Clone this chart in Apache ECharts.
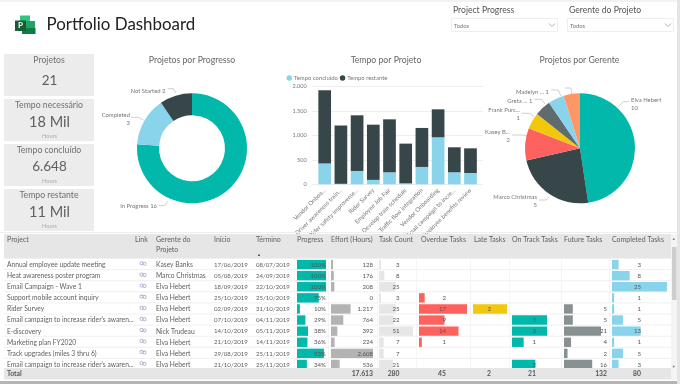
<!DOCTYPE html>
<html>
<head>
<meta charset="utf-8">
<style>
    html, body { margin: 0; padding: 0; background: #fff; }
    #main { width: 680px; height: 384px; }
</style>
<script src="https://cdn.jsdelivr.net/npm/echarts@6/dist/echarts.min.js"></script>
</head>
<body>
<div id="main"></div>
<script>
var FONT = 'Lato, "Noto Sans", sans-serif';

// rosca
var progressNames = ['In Progress', 'Completed', 'Not Started'];
var progressValues = [16, 3, 2];

// barras empilhadas
var barCategories = ['Vendor Onboa...', 'Driver awareness train...', 'Rider safety improveme...', 'Rider Survey', 'Employee Job Fair', 'Develop train schedule', 'Traffic flow integration', 'Vendor Onboarding', 'Email campaign to incre...', 'Employee benefits review'];
var timeDone = [422, 10, 272, 90, 245, 20, 354, 959, 245, 231];
var timeLeft = [1496, 1190, 1136, 1127, 1081, 810, 796, 571, 510, 503];
var barTicks = ['0', '500', '1.000', '1.500', '2.000'];

// pizza
var managerNames = ['Elva Hebert', 'Marco Christmas', 'Kasey B...', 'Frank Purc...', 'Greta ...', 'Madelyn ...', 'Outros'];
var managerValues = [10, 5, 2, 1, 1, 1, 1];

// cartoes
var kpiTitles = ['Projetos', 'Tempo necessário', 'Tempo concluído', 'Tempo restante'];
var kpiValues = ['21', '18 Mil', '6.648', '11 Mil'];

// tabela
var rowProjects = ['Annual employee update meeting', 'Heat awareness poster program', 'Email Campaign - Wave 1', 'Support mobile account inquiry', 'Rider Survey', "Email campaign to increase rider's awaren...", 'E-discovery', 'Marketing plan FY2020', 'Track upgrades (miles 3 thru 6)', "Email campaign to increase rider's awaren..."];
var rowManagers = ['Kasey Banks', 'Marco Christmas', 'Elva Hebert', 'Elva Hebert', 'Elva Hebert', 'Elva Hebert', 'Nick Trudeau', 'Elva Hebert', 'Elva Hebert', 'Elva Hebert'];
var rowStart = ['17/06/2019', '05/08/2019', '18/09/2019', '25/10/2019', '02/09/2019', '07/10/2019', '14/10/2019', '21/10/2019', '29/08/2019', '21/10/2019'];
var rowEnd = ['08/07/2019', '24/09/2019', '22/10/2019', '25/10/2019', '31/10/2019', '04/11/2019', '05/11/2019', '14/11/2019', '25/11/2019', '25/11/2019'];
var progress = [100, 100, 100, 75, 10, 29, 38, 36, 93, 34];
var effort = [128, 176, 208, 0, 1217, 764, 392, 224, 2608, 536];
var taskCount = [3, 8, 25, 3, 25, 22, 51, 7, 7, 21];
var overdue = [null, null, null, 2, 17, 9, 14, 1, null, null];
var late = [null, null, null, null, 2, null, null, null, null, null];
var onTrack = [null, null, null, null, null, 3, 3, 1, null, 2];
var future = [null, null, null, null, 5, 5, 21, 4, 2, 16];
var completed = [3, 8, 25, 1, 1, 5, 13, 1, 5, 3];
var totals = ['17.613', '280', '45', '2', '21', '132', '80'];

var ROW_TOP = 259, ROW_H = 11.1, TEXT_GREY = '#5f5f5f';
var CELL_SIZE = 6.7, NUM_SIZE = 6.1, HEAD_SIZE = 7;

function fmt(v) {
    return String(v).replace(/\B(?=(\d{3})+$)/g, '.');
}

function text(x, y, s, size, color, align, weight) {
    return {
        type: 'text', x: x, y: y, silent: true, z: 20,
        style: {
            text: s, fontFamily: FONT, fontSize: size, fill: color || TEXT_GREY,
            align: align || 'left', verticalAlign: 'middle', fontWeight: weight || 'normal'
        }
    };
}

function rect(x, y, w, h, color, z) {
    return { type: 'rect', silent: true, z: z || 1, shape: { x: x, y: y, width: w, height: h }, style: { fill: color } };
}

function line(x1, y1, x2, y2, color, w) {
    return { type: 'line', silent: true, z: 2, shape: { x1: x1, y1: y1, x2: x2, y2: y2 }, style: { stroke: color, lineWidth: w || 1 } };
}

// colunas com barra dentro da celula
var barColumns = [
    { title: 'Progress', data: progress, left: 297, width: 29, max: 100, color: '#01b8aa', labelX: 326, suffix: '%' },
    { title: 'Effort (Hours)', data: effort, left: 331, width: 42, max: 2608, color: '#b3b3b3', labelX: 373 },
    { title: 'Task Count', data: taskCount, left: 379, width: 34, max: 51, color: '#e6e6e6', labelX: 399.5, total: 0 },
    { title: 'Overdue Tasks', data: overdue, left: 419, width: 48, max: 17, color: '#fd625e', labelX: 446, total: 1 },
    { title: 'Late Tasks', data: late, left: 473, width: 34, max: 2, color: '#f2c80f', labelX: 491, total: 2 },
    { title: 'On Track Tasks', data: onTrack, left: 512, width: 35, max: 3, color: '#01b8aa', labelX: 536, total: 3 },
    { title: 'Future Tasks', data: future, left: 564, width: 37, max: 21, color: '#889092', labelX: 607, total: 4 },
    { title: 'Completed Tasks', data: completed, left: 612, width: 55, max: 25, color: '#8ad4eb', labelX: 641, total: 5 }
];

function buildGraphic() {
    var g = [];
    var i, j;

    // moldura
    g.push(rect(0, 0, 680, 2, '#f2f2f2'));
    g.push(rect(0, 232, 680, 1, '#eeeeee'));
    g.push(rect(0, 381, 680, 3, '#b5b5b5'));
    g.push(rect(677, 0, 3, 384, '#e4e4e4'));

    // logo
    g.push(rect(20, 15.5, 10, 9, '#33c481', 3));
    g.push(rect(20, 21, 15, 7, '#21a366', 3));
    g.push(rect(22, 28, 13.5, 6, '#107c41', 3));
    g.push(rect(15, 20.5, 11, 10.5, '#185c37', 4));
    g.push(text(20.5, 25.5, 'P', 8, '#fff', 'center', 'bold'));
    g.push(text(46.5, 24.5, 'Portfolio Dashboard', 16.9, '#222'));

    // filtros
    var slicers = [[453, 'Project Progress'], [569, 'Gerente do Projeto']];
    for (i = 0; i < slicers.length; i++) {
        var sx = slicers[i][0];
        g.push(text(sx, 10, slicers[i][1], 8.6, '#555'));
        g.push({
            type: 'rect', silent: true, shape: { x: sx - 1.5, y: 18.5, width: 106, height: 13 },
            style: { fill: '#fff', stroke: '#eeeeee' }
        });
        g.push(text(sx + 1, 26, 'Todos', 5.8, '#777'));
        g.push({
            type: 'polyline', silent: true, shape: { points: [[sx + 96, 23.5], [sx + 99, 26.5], [sx + 102, 23.5]] },
            style: { stroke: '#999', fill: null, lineWidth: 0.8 }
        });
    }

    // cartoes
    var cardTops = [54, 99, 144, 189];
    var kpiSize = [13.5, 14.5, 13.5, 14.5];
    for (i = 0; i < 4; i++) {
        var top = cardTops[i];
        g.push(rect(4, top, 90, 42, '#ececec'));
        g.push(text(49, top + 6.5, kpiTitles[i], 8.7, '#707070', 'center'));
        g.push(text(49.5, top + (i ? 23 : 27), kpiValues[i], kpiSize[i], '#606060', 'center'));
        if (i) {
            g.push(text(49.5, top + 37.5, 'Hours', 5.6, '#aaa', 'center'));
        }
    }

    // titulos
    g.push(text(192, 60, 'Projetos por Progresso', 8.7, '#666', 'center'));
    g.push(text(386, 60, 'Tempo por Projeto', 8.7, '#666', 'center'));
    g.push(text(579.5, 60, 'Projetos por Gerente', 8.7, '#666', 'center'));

    // tabela: cabecalho e total
    g.push(rect(4, 234, 667, 25, '#e6e6e6'));
    g.push(rect(4, 368, 667, 11.5, '#e6e6e6', 15));
    g.push(rect(671, 234, 6, 146, '#f4f4f4'));
    g.push(rect(672, 247, 4.5, 53, '#cdcdcd'));
    g.push(text(673.8, 239, '▲', 4, '#777', 'center'));
    g.push(text(673.8, 367, '▼', 4, '#777', 'center'));

    g.push(text(7, 240, 'Project', HEAD_SIZE));
    g.push(text(135, 240, 'Link', HEAD_SIZE));
    g.push(text(156, 240, 'Gerente do', HEAD_SIZE));
    g.push(text(156, 249.5, 'Projeto', HEAD_SIZE));
    g.push(text(214, 240, 'Início', HEAD_SIZE));
    g.push(text(256, 240, 'Término', HEAD_SIZE));
    g.push(text(259, 255, '▲', 4, '#444', 'center'));
    for (i = 0; i < barColumns.length; i++) {
        g.push(text(barColumns[i].left + (i === 3 ? 2 : i === 4 ? 1 : 0), 240, barColumns[i].title, HEAD_SIZE));
    }

    for (j = 0; j <= 10; j++) {
        g.push(line(4, ROW_TOP + j * ROW_H - 0.5, 671, ROW_TOP + j * ROW_H - 0.5, '#f0f0f0'));
    }
    var seps = [294.5, 328.5, 377.5, 416.5, 470.5, 509.5, 561.5, 609.5];
    for (i = 0; i < seps.length; i++) {
        g.push(line(seps[i], 259, seps[i], 368, '#f5f5f5'));
    }

    for (j = 0; j < 10; j++) {
        var y = ROW_TOP + j * ROW_H + 5.8;
        g.push(text(7, y, rowProjects[j], CELL_SIZE));
        g.push(text(156, y, rowManagers[j], CELL_SIZE));
        g.push(text(214, y, rowStart[j], NUM_SIZE));
        g.push(text(256, y, rowEnd[j], NUM_SIZE));
        // link
        g.push({
            type: 'ring', silent: true, z: 3, shape: { cx: 141.5, cy: y - 1.5, r: 2, r0: 1.2 }, style: { fill: '#a4a8cc' }
        });
        g.push({
            type: 'ring', silent: true, z: 3, shape: { cx: 144.5, cy: y - 1, r: 2, r0: 1.2 }, style: { fill: '#a4a8cc' }
        });
        for (i = 0; i < barColumns.length; i++) {
            var c = barColumns[i];
            if (c.data[j] !== null) {
                g.push(text(c.labelX, y, fmt(c.data[j]) + (c.suffix || ''), NUM_SIZE, '#555', 'right'));
            }
        }
    }

    // linha total
    g.push(text(7, 374, 'Total', 6.8, '#555', 'left', 'bold'));
    g.push(text(373, 374, totals[0], 6.8, '#555', 'right', 'bold'));
    for (i = 2; i < barColumns.length; i++) {
        g.push(text(barColumns[i].labelX, 374, totals[barColumns[i].total + 1], 6.8, '#555', 'right', 'bold'));
    }
    return g;
}

function pieLabelStyle() {
    return { color: '#777', fontSize: 5.9, fontFamily: FONT, lineHeight: 8, width: 70, overflow: 'none' };
}

// posicao dos rotulos das fatias e das linhas-guia
var progressLabelPos = [
    { x: 157, y: 206, align: 'right', guide: [[167.5, 201], [165, 205.5], [158.5, 205.5]] },
    { x: 130, y: 118.7, align: 'right', guide: [[143.5, 120], [138.5, 117.3], [131, 117.3]] },
    { x: 165.5, y: 90.7, align: 'right', guide: [[175.7, 93], [173.5, 88.7], [167.5, 88.7]] }
];
var managerLabelPos = [
    { x: 631, y: 104, align: 'left', guide: [[618.3, 106.7], [623.3, 101.7], [629, 101.7]] },
    { x: 537, y: 201, align: 'right', guide: [[549.3, 196.7], [546, 200], [539, 200]] },
    { x: 510, y: 136, align: 'right', guide: [[527, 136], [523, 135], [512, 135]] },
    { x: 520, y: 114.5, align: 'right', guide: [[534, 116.7], [530, 113.3], [521.7, 113.3]] },
    { x: 532.3, y: 101, align: 'right', guide: [[545, 104], [541.7, 99.3], [534, 99.3]] },
    { x: 549, y: 91.7, align: 'right', guide: [[560.7, 96], [558.3, 90], [551, 90]] }
];

function labelLayoutFrom(pos) {
    return function (params) {
        var p = pos[params.dataIndex];
        if (!p) {
            return { };
        }
        return { x: p.x, y: p.y, align: p.align, verticalAlign: 'middle', labelLinePoints: p.guide };
    };
}

function toPieData(names, values, colors) {
    var out = [];
    for (var i = 0; i < names.length; i++) {
        out.push({ name: names[i], value: values[i], itemStyle: { color: colors[i] } });
    }
    return out;
}

var grids = [
    { left: 311.7, width: 171.3, top: 86.3, height: 98 },
    { left: 316.6, width: 162, top: 86.3, height: 98 }
];
var xAxes = [
    { type: 'value', gridIndex: 0, show: false, min: 0, max: 1 },
    {
        type: 'category', gridIndex: 1, data: barCategories,
        axisLine: { show: false }, axisTick: { show: false },
        axisLabel: { rotate: 45, interval: 0, margin: 5, color: '#777', fontSize: 6, fontFamily: FONT }
    }
];
var yAxes = [
    {
        type: 'value', gridIndex: 0, min: 0, max: 2000, interval: 500,
        axisLine: { show: false }, axisTick: { show: false },
        axisLabel: {
            margin: 5, color: '#777', fontSize: 5.6, fontFamily: FONT,
            formatter: function (v) { return barTicks[v / 500]; }
        },
        splitLine: { lineStyle: { color: '#eeeeee' } }
    },
    { type: 'value', gridIndex: 1, show: false, min: 0, max: 2000 }
];

var series = [
    {
        name: 'Tempo concluído', type: 'bar', stack: 'tempo', xAxisIndex: 1, yAxisIndex: 1,
        barWidth: 12.7, data: timeDone, itemStyle: { color: '#8ad4eb' }
    },
    {
        name: 'Tempo restante', type: 'bar', stack: 'tempo', xAxisIndex: 1, yAxisIndex: 1,
        barWidth: 12.7, data: timeLeft, itemStyle: { color: '#374649' }
    },
    {
        type: 'pie', center: [192, 148.3], radius: [33, 55], startAngle: 90, silent: true,
        data: toPieData(progressNames, progressValues, ['#01b8aa', '#8ad4eb', '#374649']),
        label: Object.assign(pieLabelStyle(), {
            formatter: function (p) {
                return p.dataIndex === 1 ? p.name + '\n' + p.value : p.name + ' ' + p.value;
            }
        }),
        labelLine: { show: true, length: 6, length2: 6, lineStyle: { color: '#bbb', width: 0.7 } },
        labelLayout: labelLayoutFrom(progressLabelPos)
    },
    {
        type: 'pie', center: [580, 148.3], radius: [0, 55], startAngle: 90, silent: true,
        data: toPieData(managerNames, managerValues, ['#01b8aa', '#374649', '#fd625e', '#f2c80f', '#5f6b6d', '#8ad4eb', '#fe9666']),
        label: Object.assign(pieLabelStyle(), {
            formatter: function (p) {
                if (p.dataIndex === 6) {
                    return '';
                }
                return p.dataIndex === 4 || p.dataIndex === 5 ? p.name + ' ' + p.value : p.name + '\n' + p.value;
            }
        }),
        labelLine: { show: true, length: 6, length2: 6, lineStyle: { color: '#bbb', width: 0.7 } },
        labelLayout: labelLayoutFrom(managerLabelPos)
    }
];

// uma grade por coluna da tabela
for (var c = 0; c < barColumns.length; c++) {
    var col = barColumns[c];
    var gi = grids.length;
    grids.push({ left: col.left, width: col.width, top: ROW_TOP, height: ROW_H * 10 });
    xAxes.push({ type: 'value', gridIndex: gi, show: false, min: 0, max: col.max });
    yAxes.push({ type: 'category', gridIndex: gi, show: false, inverse: true, data: rowProjects.map(function (n, i) { return i; }) });
    series.push({
        type: 'bar', xAxisIndex: gi, yAxisIndex: gi, barWidth: 9.4, silent: true, z: 5,
        data: col.data, itemStyle: { color: col.color }
    });
}

var chart = echarts.init(document.getElementById('main'), null, { renderer: 'canvas' });
chart.setOption({
    animation: false,
    backgroundColor: '#fff',
    textStyle: { fontFamily: FONT },
    legend: {
        left: 281.5, top: 70, itemWidth: 5.5, itemHeight: 5.5, itemGap: 2, icon: 'circle',
        data: ['Tempo concluído', 'Tempo restante'],
        textStyle: { color: '#777', fontSize: 5.9, fontFamily: FONT, padding: [0, 0, 0, -3] }
    },
    grid: grids,
    xAxis: xAxes,
    yAxis: yAxes,
    series: series,
    graphic: buildGraphic()
});
</script>
</body>
</html>
